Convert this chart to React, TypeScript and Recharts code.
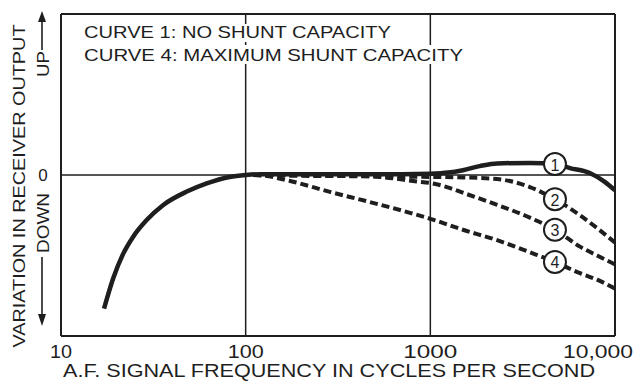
import { LineChart, Line, XAxis, YAxis, ReferenceLine } from 'recharts';

// curve 1: no shunt capacity
const freq1 = [17.1, 19.2, 21.7, 24.6, 29.1, 35.8, 48, 61.5, 82, 100, 120, 200, 400, 700, 1000, 1250, 1500, 1850, 2300, 3460, 4730, 5700, 7300, 8800, 10000];
const out1 = [-8.3, -6.4, -4.9, -3.83, -2.8, -1.86, -1.03, -0.52, -0.12, 0, 0.05, 0.05, 0.05, 0.05, 0.08, 0.15, 0.3, 0.55, 0.72, 0.75, 0.68, 0.43, 0.12, -0.43, -0.95];

// curve 2
const freq2 = [110, 200, 500, 1000, 1500, 2300, 3460, 4730, 6460, 8000, 10000];
const out2 = [0, -0.05, -0.08, -0.12, -0.15, -0.25, -0.75, -1.5, -2.5, -3.3, -4.2];

// curve 3
const freq3 = [110, 200, 286, 400, 533, 845, 1000, 1230, 1500, 2300, 3460, 4730, 6460, 8000, 10000];
const out3 = [0, 0, -0.03, -0.06, -0.12, -0.4, -0.5, -0.75, -1.1, -1.85, -2.65, -3.4, -4.45, -5.0, -5.55];

// curve 4: maximum shunt capacity
const freq4 = [110, 127, 174, 286, 471, 776, 1000, 1500, 2300, 3460, 4730, 6460, 8000, 10000];
const out4 = [0, -0.05, -0.37, -1.05, -1.68, -2.35, -2.72, -3.4, -4.05, -4.8, -5.4, -6.1, -6.5, -7.05];

const xTicks = [10, 100, 1000, 10000];
const xTickLabels = ['10', '100', '1000', '10,000'];
const badgeFreq = 4730;

const INK = '#1e1e1e';
const FONT = '"Liberation Sans", Arial, sans-serif';

const toPoints = (f: number[], v: number[]) => f.map((x, i) => ({ f: x, v: v[i] }));

const c1 = toPoints(freq1, out1);
const c2 = toPoints(freq2, out2);
const c3 = toPoints(freq3, out3);
const c4 = toPoints(freq4, out4);

function badge(label: string) {
  return (p: any) => {
    if (p.payload?.f !== badgeFreq) return <g key={`d-${label}-${p.index}`} />;
    return (
      <g key={`d-${label}-${p.index}`}>
        <circle cx={p.cx} cy={p.cy} r={11} fill="#fff" stroke={INK} strokeWidth={2} />
        <text x={p.cx} y={p.cy + 1} textAnchor="middle" dominantBaseline="central" fontSize={16} fontFamily={FONT} fill={INK}>
          {label}
        </text>
      </g>
    );
  };
}

const widths: Record<string, number> = { '10': 22, '100': 36, '1000': 54, '10,000': 70 };

function XTick({ x, payload }: any) {
  const idx = xTicks.indexOf(payload.value);
  const label = xTickLabels[idx] ?? String(payload.value);
  const w = widths[label];
  const cx = label === '10,000' ? x - 17 : x;
  return (
    <text x={cx} y={358} textAnchor="middle" fontSize={18} fontFamily={FONT} fill={INK} textLength={w} lengthAdjust="spacingAndGlyphs">
      {label}
    </text>
  );
}

function YTick({ y }: any) {
  return (
    <text x={43} y={y} textAnchor="middle" dominantBaseline="central" fontSize={17} fontFamily={FONT} fill={INK}>
      0
    </text>
  );
}

export default function App() {
  return (
    <div style={{ position: 'relative', width: 638, height: 381, background: '#fff' }}>
      <style>{'body{margin:0}'}</style>
      <LineChart width={638} height={381} margin={{ top: 14, right: 23, bottom: 0, left: 0 }}>
        <XAxis
          dataKey="f"
          type="number"
          scale="log"
          domain={[10, 10000]}
          ticks={xTicks}
          allowDataOverflow
          height={45}
          tickLine={false}
          axisLine={{ stroke: INK, strokeWidth: 2 }}
          tick={<XTick />}
        />
        <YAxis
          type="number"
          domain={[-10, 10]}
          ticks={[0]}
          width={61}
          tickLine={false}
          axisLine={{ stroke: INK, strokeWidth: 2 }}
          tick={<YTick />}
        />
        <ReferenceLine y={10} stroke={INK} strokeWidth={2} />
        <ReferenceLine x={10000} stroke={INK} strokeWidth={2} />
        <ReferenceLine x={100} stroke={INK} strokeWidth={1.5} />
        <ReferenceLine x={1000} stroke={INK} strokeWidth={1.5} />
        <ReferenceLine y={0} stroke={INK} strokeWidth={1.5} />
        <Line data={c4} dataKey="v" type="monotone" stroke={INK} strokeWidth={4} strokeDasharray="8 4" dot={badge('4')} isAnimationActive={false} />
        <Line data={c3} dataKey="v" type="monotone" stroke={INK} strokeWidth={4} strokeDasharray="8 4" dot={badge('3')} isAnimationActive={false} />
        <Line data={c2} dataKey="v" type="monotone" stroke={INK} strokeWidth={4} strokeDasharray="8 4" dot={badge('2')} isAnimationActive={false} />
        <Line data={c1} dataKey="v" type="monotone" stroke={INK} strokeWidth={4.5} dot={badge('1')} isAnimationActive={false} />
      </LineChart>
      <svg width={638} height={381} style={{ position: 'absolute', left: 0, top: 0, pointerEvents: 'none' }} fontFamily={FONT} fill={INK}>
        <rect x={80} y={24} width={316} height={18} fill="#fff" />
        <rect x={80} y={45} width={388} height={19} fill="#fff" />
        <text x={84} y={38} fontSize={17} textLength={307} lengthAdjust="spacingAndGlyphs">CURVE 1: NO SHUNT CAPACITY</text>
        <text x={84} y={61} fontSize={17} textLength={379} lengthAdjust="spacingAndGlyphs">CURVE 4: MAXIMUM SHUNT CAPACITY</text>
        <text
          x={0}
          y={0}
          transform="translate(24.5 186) rotate(-90)"
          textAnchor="middle"
          fontSize={17}
          textLength={323}
          lengthAdjust="spacingAndGlyphs"
        >
          VARIATION IN RECEIVER OUTPUT
        </text>
        <text x={0} y={0} transform="translate(49 64) rotate(-90)" textAnchor="middle" fontSize={16} textLength={26} lengthAdjust="spacingAndGlyphs">
          UP
        </text>
        <line x1={42} y1={50} x2={42} y2={20} stroke={INK} strokeWidth={1.6} />
        <path d="M42 11 L38 22 L46 22 Z" fill={INK} />
        <text x={0} y={0} transform="translate(49 223) rotate(-90)" textAnchor="middle" fontSize={16} textLength={60} lengthAdjust="spacingAndGlyphs">
          DOWN
        </text>
        <line x1={42} y1={257} x2={42} y2={314} stroke={INK} strokeWidth={1.6} />
        <path d="M42 326 L38 314 L46 314 Z" fill={INK} />
        <text x={63} y={377} fontSize={18} textLength={532} lengthAdjust="spacingAndGlyphs">
          A.F. SIGNAL FREQUENCY IN CYCLES PER SECOND
        </text>
      </svg>
    </div>
  );
}
